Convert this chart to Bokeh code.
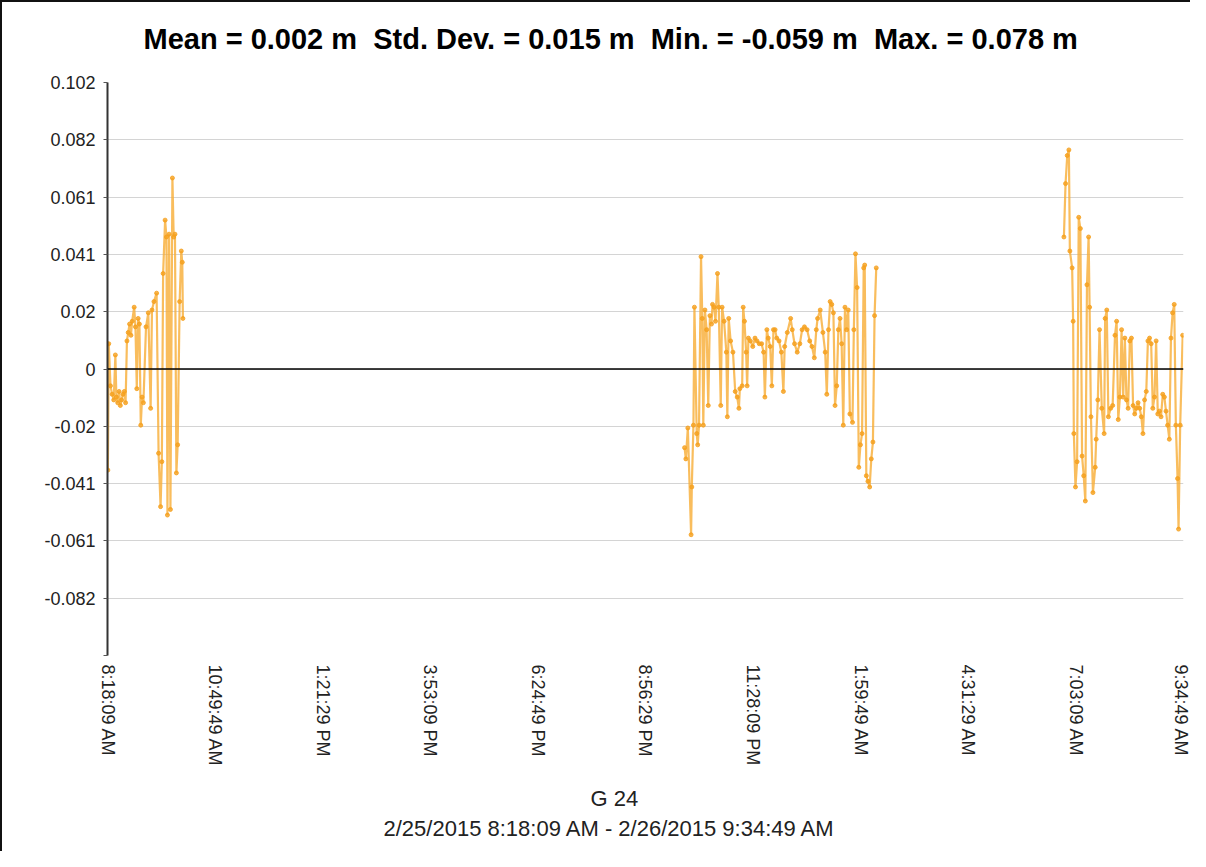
from bokeh.plotting import figure
from bokeh.models import FixedTicker, Span, Title
from bokeh.embed import file_html
from bokeh.resources import INLINE

# ---- data (minutes after 2/25/2015 8:18:09 AM, metres) ----
seg1_t = [0, 0.5, 1.8, 4.2, 6.5, 8.8, 11.1, 12.5, 14.4, 16.3, 18.1, 19.9, 21.8, 23.7, 25.5,
          27.4, 29.2, 31.1, 33.0, 34.8, 37.6, 39.4, 41.3, 43.2, 45.0, 46.9, 48.7, 50.6, 54.3,
          57.5, 60.8, 62.7, 65.5, 69.2, 72.0, 74.8, 76.6, 78.4, 81.2, 83.1, 84.5, 86.8, 88.7,
          91.5, 93.3, 95.1, 97.1, 98.9, 101.7, 104.0, 105.4, 106.3]
seg1_v = [0.009, -0.036, 0.009, -0.006, -0.009, -0.011, 0.005, -0.010, -0.012, -0.008, -0.013,
          -0.011, -0.009, -0.008, -0.012, 0.010, 0.013, 0.016, 0.012, 0.017, 0.022, 0.015, -0.007,
          0.018, 0.016, -0.020, -0.010, -0.012, 0.015, 0.020, -0.014, 0.021, 0.024, 0.027, -0.030,
          -0.049, -0.033, 0.034, 0.053, 0.047, -0.052, 0.048, -0.050, 0.068, 0.047, 0.048, -0.037,
          -0.027, 0.024, 0.042, 0.038, 0.018]

seg2_t = [813.4, 815.2, 818.0, 822.6, 823.6, 825.9, 827.3, 830.5, 831.9, 833.8, 836.6, 838.4,
          839.8, 842.1, 844.5, 846.8, 849.1, 851.4, 852.8, 855.1, 857.0, 859.8, 861.6, 864.4,
          866.3, 869.1, 872.3, 873.7, 875.6, 878.3, 881.6, 884.8, 887.6, 890.0, 891.3, 894.6,
          896.0, 897.8, 900.2, 901.6, 903.4, 906.2, 909.5, 912.7, 915.5, 918.7, 922.0, 924.8,
          926.6, 929.4, 931.3, 934.1, 936.4, 938.7, 941.0, 943.3, 946.6, 949.8,
          952.7, 954.5, 958.2, 962.9, 965.2, 968.4, 972.2, 975.9, 979.1, 982.4, 986.1, 989.8,
          993.0, 996.3, 999.1, 1000.9, 1004.6, 1008.4, 1011.6, 1013.9, 1016.3, 1018.6, 1020.9,
          1023.2, 1025.5, 1027.9, 1030.2, 1032.5, 1034.8, 1037.1, 1039.5, 1041.8, 1044.1,
          1046.4, 1050.1, 1052.0, 1054.3, 1056.6, 1059.0, 1061.3, 1063.6, 1065.9, 1067.3,
          1069.6, 1071.9, 1074.3, 1076.6, 1078.9, 1081.2, 1083.6]
seg2_v = [-0.028, -0.032, -0.021, -0.059, -0.042, -0.020, 0.022, -0.023, -0.027, -0.020, 0.040,
          0.018, -0.020, 0.021, 0.014, -0.013, 0.019, 0.016, 0.023, 0.022, 0.017, 0.034, 0.022,
          -0.013, 0.022, 0.017, 0.006, -0.017, 0.018, 0.010, 0.006, -0.008, -0.010, -0.014,
          -0.007, -0.006, 0.022, 0.017, 0.006, -0.006, 0.011, 0.010, 0.008, 0.011, 0.010, 0.009,
          0.009, 0.006, -0.010, 0.014, 0.011, 0.008, -0.006, 0.014, 0.014, 0.011, 0.010, 0.006,
          -0.008, 0.008, 0.013, 0.018, 0.014, 0.009, 0.006, 0.009, 0.014, 0.015, 0.014, 0.010,
          0.008, 0.004, 0.014, 0.018, 0.021, 0.013, 0.006, -0.009, 0.014, 0.024, 0.023, 0.020,
          -0.013, -0.006, 0.014, 0.018, 0.009, -0.020, 0.022, 0.014, 0.021, -0.016, -0.019,
          0.014, 0.041, 0.029, -0.035, -0.027, -0.023, 0.036, 0.037, -0.038, -0.040, -0.042,
          -0.032, -0.026, 0.019, 0.036]

seg3_t = [1348.1, 1350.4, 1352.8, 1355.1, 1356.5, 1359.7, 1361.1, 1362.1, 1364.4, 1366.7,
          1369.0, 1371.3, 1373.7, 1376.0, 1378.3, 1380.6, 1382.9, 1384.3, 1386.2, 1389.0,
          1392.2, 1393.6, 1395.9, 1398.3, 1401.5, 1404.8, 1406.2, 1408.5, 1410.8, 1414.0,
          1416.8, 1420.1, 1422.4, 1424.7, 1427.0, 1429.4, 1431.7, 1434.0, 1436.3, 1438.6,
          1441.0, 1443.3, 1445.6, 1447.9, 1450.2, 1452.6, 1454.9, 1457.2, 1459.5, 1461.8,
          1464.2, 1466.5, 1468.8, 1471.1, 1473.4, 1475.8, 1478.1, 1480.4, 1482.7, 1485.0,
          1487.4, 1489.7, 1492.0, 1494.3, 1496.7, 1499.0, 1501.3, 1503.6, 1505.9, 1508.3,
          1509.7, 1512.0, 1515.5]
seg3_v = [0.047, 0.066, 0.076, 0.078, 0.042, 0.036, 0.017, -0.023, -0.042, -0.033, 0.054,
          0.050, -0.031, -0.038, -0.047, 0.030, 0.047, 0.022, -0.017, -0.044, -0.035, -0.025,
          -0.011, 0.014, -0.014, -0.023, 0.018, 0.021, -0.017, -0.014, -0.013, 0.012, 0.017,
          -0.018, -0.010, 0.014, -0.010, 0.011, -0.011, -0.014, 0.010, 0.011, -0.013, -0.016,
          -0.014, -0.012, -0.014, -0.017, -0.023, -0.011, -0.008, 0.010, 0.011, 0.009, -0.014,
          -0.010, 0.010, -0.016, -0.015, -0.017, -0.009, -0.010, -0.015, -0.020, -0.025, 0.011,
          0.020, 0.023, -0.020, -0.039, -0.057, -0.020, 0.012]

x_tick_pos = [0, 151.667, 303.333, 455.0, 606.667, 758.333, 910.0, 1061.667, 1213.333, 1365.0, 1516.667]
x_tick_labels = ["8:18:09 AM", "10:49:49 AM", "1:21:29 PM", "3:53:09 PM", "6:24:49 PM",
                 "8:56:29 PM", "11:28:09 PM", "1:59:49 AM", "4:31:29 AM", "7:03:09 AM", "9:34:49 AM"]
y_tick_pos = [0.102, 0.0816, 0.0612, 0.0408, 0.0204, 0.0, -0.0204, -0.0408, -0.0612, -0.0816, -0.102]
y_tick_labels = ["0.102", "0.082", "0.061", "0.041", "0.02", "0", "-0.02", "-0.041", "-0.061", "-0.082", ""]

title_text = "Mean = 0.002 m\u00a0 Std. Dev. = 0.015 m\u00a0 Min. = -0.059 m\u00a0 Max. = 0.078 m"
footer1 = "G 24"
footer2 = "2/25/2015 8:18:09 AM - 2/26/2015 9:34:49 AM"

FONT = "Liberation Sans"
ORANGE = "#F8AC35"

p = figure(width=1190, height=851, x_range=(0, 1516.667), y_range=(-0.102, 0.102),
           output_backend="svg", toolbar_location=None,
           min_border_left=107, min_border_right=7, min_border_top=82, min_border_bottom=196)
p.outline_line_color = None
p.background_fill_color = "white"
p.border_fill_color = None
p.styles = {"box-shadow": "inset 2px 2px 0 0 #111111"}

# axes
p.xaxis.ticker = FixedTicker(ticks=x_tick_pos)
p.xaxis.major_label_overrides = {t: l for t, l in zip(x_tick_pos, x_tick_labels)}
p.xaxis.major_label_orientation = "vertical"
p.xaxis.axis_line_color = None
p.xaxis.major_tick_line_color = None
p.xaxis.major_tick_out = 0
p.xaxis.major_tick_in = 0
p.xaxis.minor_tick_line_color = None
p.xaxis.major_label_standoff = 9
p.xaxis.major_label_text_font = FONT
p.xaxis.major_label_text_font_size = "18px"
p.xaxis.major_label_text_color = "#222222"

p.yaxis.ticker = FixedTicker(ticks=y_tick_pos)
p.yaxis.major_label_overrides = {t: l for t, l in zip(y_tick_pos, y_tick_labels)}
p.yaxis.axis_line_color = "#333333"
p.yaxis.axis_line_width = 2
p.yaxis.major_tick_line_color = "#555555"
p.yaxis.major_tick_out = 4
p.yaxis.major_tick_in = 0
p.yaxis.minor_tick_line_color = None
p.yaxis.major_label_standoff = 8
p.yaxis.major_label_text_font = FONT
p.yaxis.major_label_text_font_size = "18px"
p.yaxis.major_label_text_color = "#222222"

p.xgrid.grid_line_color = None
p.ygrid.ticker = FixedTicker(ticks=y_tick_pos[:-1])
p.ygrid.grid_line_color = "#d4d4d4"
p.ygrid.grid_line_width = 1.2

p.add_layout(Span(location=0, dimension="width", line_color="black", line_width=1.5))

for t, v in ((seg1_t, seg1_v), (seg2_t, seg2_v), (seg3_t, seg3_v)):
    p.line(t, v, line_color=ORANGE, line_width=2.2, line_alpha=0.8)
    p.scatter(t, v, size=4, fill_color="#F5A01E", line_color="#F5A01E", alpha=0.8)

# title: an empty second line keeps the text higher above the frame
p.add_layout(Title(text=title_text + "\n\u00a0", align="left", offset=36, text_font=FONT,
                   text_font_size="29px", text_font_style="bold", text_color="black",
                   text_line_height=0.85, standoff=0), "above")
# spacer between the time labels and the footer
p.add_layout(Title(text="\u00a0", text_font_size="1px", standoff=11), "below")
p.add_layout(Title(text=footer1, align="left", offset=483, text_font=FONT,
                   text_font_size="22px", text_font_style="normal", text_color="#222222",
                   standoff=0), "below")
p.add_layout(Title(text=footer2, align="left", offset=276, text_font=FONT,
                   text_font_size="22px", text_font_style="normal", text_color="#222222",
                   standoff=7), "below")

open("out.html", "w").write(file_html(p, INLINE))
